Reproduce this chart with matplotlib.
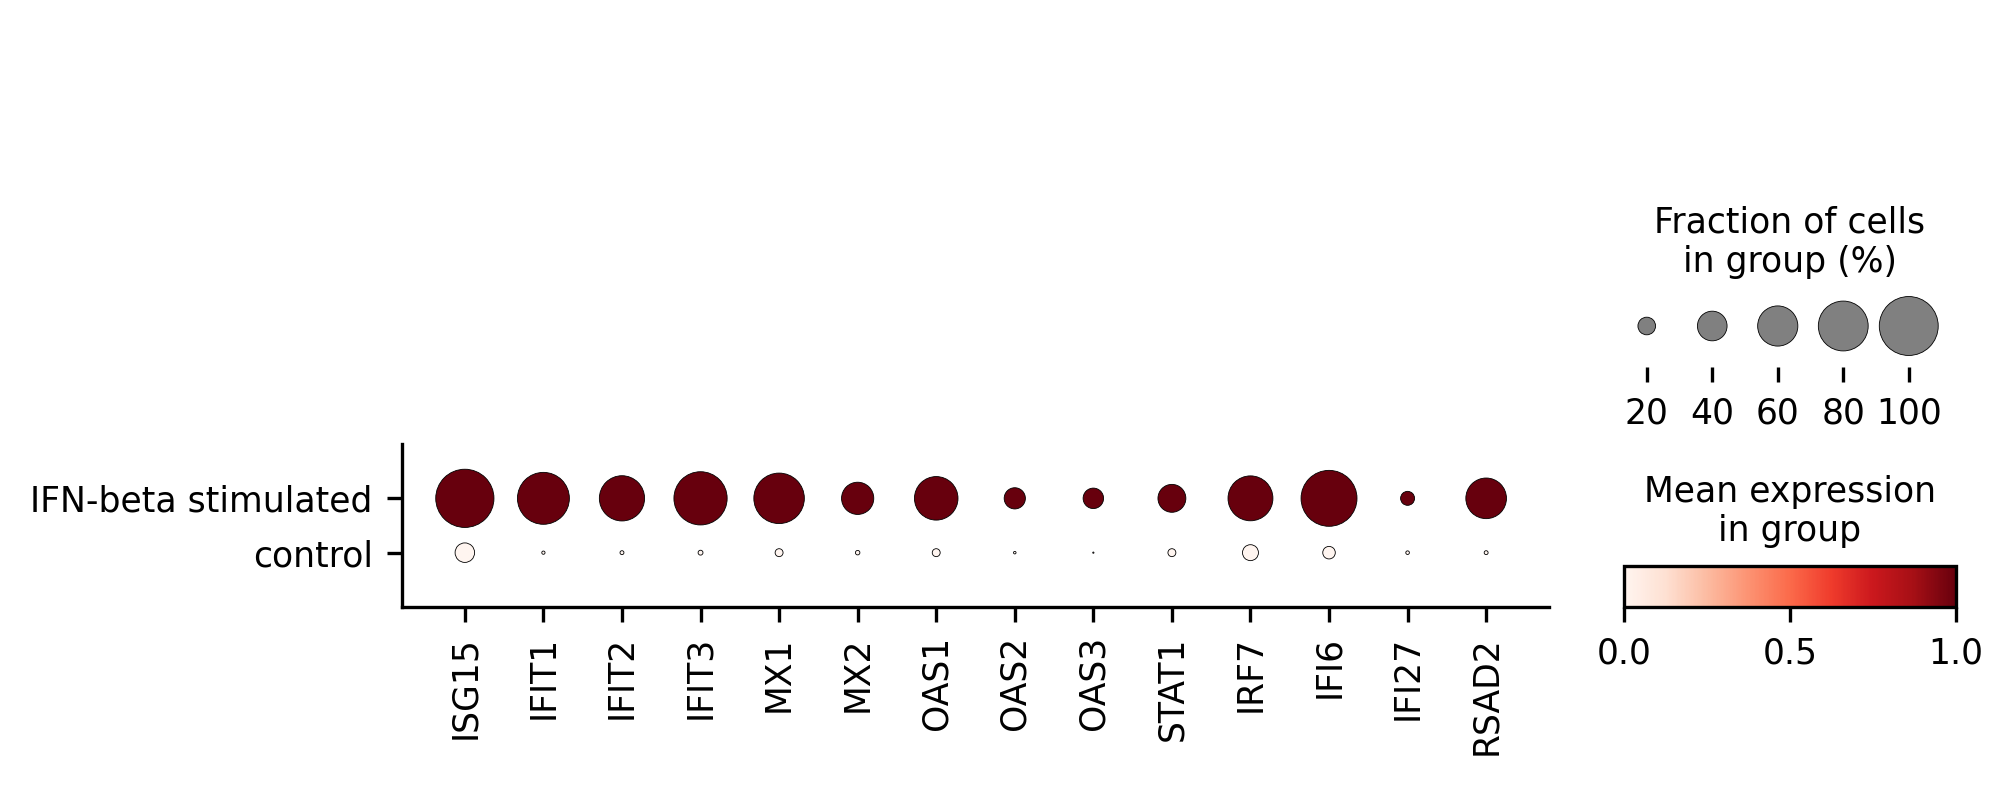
import matplotlib
matplotlib.use("Agg")
import matplotlib.pyplot as plt
import numpy as np
from matplotlib import cm, colors as mcolors

genes = ["ISG15", "IFIT1", "IFIT2", "IFIT3", "MX1", "MX2", "OAS1", "OAS2",
         "OAS3", "STAT1", "IRF7", "IFI6", "IFI27", "RSAD2"]
groups = ["IFN-beta stimulated", "control"]
frac_stim = [0.984, 0.845, 0.703, 0.873, 0.814, 0.447, 0.668, 0.256,
             0.244, 0.369, 0.696, 0.933, 0.147, 0.609]
frac_ctrl = [0.229, 0.021, 0.027, 0.036, 0.069, 0.032, 0.069, 0.015,
             0.006, 0.069, 0.175, 0.127, 0.024, 0.027]
expr_stim = [1.0] * 14
expr_ctrl = [0.0] * 14
legend_fracs = [20, 40, 60, 80, 100]
cbar_ticks = [0.0, 0.5, 1.0]

W, H = 2013, 785
DPI = 300
plt.rcParams["font.family"] = "DejaVu Sans"
plt.rcParams["font.size"] = 8.3

fig = plt.figure(figsize=(W / DPI, H / DPI), dpi=DPI)


def px_axes(left, top, right, bottom):
    return fig.add_axes([left / W, 1 - bottom / H, (right - left) / W, (bottom - top) / H])


largest_dot = 200.0
size_exp = 1.5
cmap = plt.get_cmap("Reds")
norm = mcolors.Normalize(vmin=0, vmax=1)

# main dot plot
ax = px_axes(402, 444, 1549, 607)
x = np.arange(len(genes))
fracs = [frac_stim, frac_ctrl]
exprs = [expr_stim, expr_ctrl]
for i, g in enumerate(groups):
    f = np.array(fracs[i])
    s = (f ** size_exp) * largest_dot
    ax.scatter(x, np.full(len(genes), i), s=s, c=exprs[i], cmap=cmap, norm=norm,
               edgecolor="black", linewidth=0.2, zorder=3)
ax.set_xlim(-0.8, len(genes) - 1 + 0.8)
ax.set_ylim(len(groups), -1)
ax.set_xticks(x)
ax.set_xticklabels(genes, rotation=90)
ax.set_yticks(np.arange(len(groups)))
ax.set_yticklabels(groups)
ax.spines["top"].set_visible(False)
ax.spines["right"].set_visible(False)

# size legend
sax = px_axes(1614, 287, 1941.5, 367)
lx = np.arange(len(legend_fracs))
ls = ((np.array(legend_fracs) / 100.0) ** size_exp) * largest_dot
sax.scatter(lx, np.full(len(lx), 0.5125), s=ls, color="gray", edgecolor="black",
            linewidth=0.2, clip_on=False, zorder=3)
sax.set_xlim(-0.5, len(legend_fracs) - 0.5)
sax.set_ylim(0, 1)
sax.set_xticks(lx)
sax.set_xticklabels([str(v) for v in legend_fracs])
sax.set_yticks([])
for sp in sax.spines.values():
    sp.set_visible(False)
sax.set_facecolor("none")
fig.text(1790 / W, 1 - 279 / H, "Fraction of cells\nin group (%)", ha="center",
         va="bottom", multialignment="center")

# colorbar
cax = px_axes(1624, 566, 1956, 607)
cb = fig.colorbar(cm.ScalarMappable(norm=norm, cmap=cmap), cax=cax, orientation="horizontal")
cb.set_ticks(cbar_ticks)
cb.set_ticklabels([f"{v:.1f}" for v in cbar_ticks])
fig.text(1790 / W, 1 - 548 / H, "Mean expression\nin group", ha="center",
         va="bottom", multialignment="center")

fig.savefig("out.png", dpi=DPI)
